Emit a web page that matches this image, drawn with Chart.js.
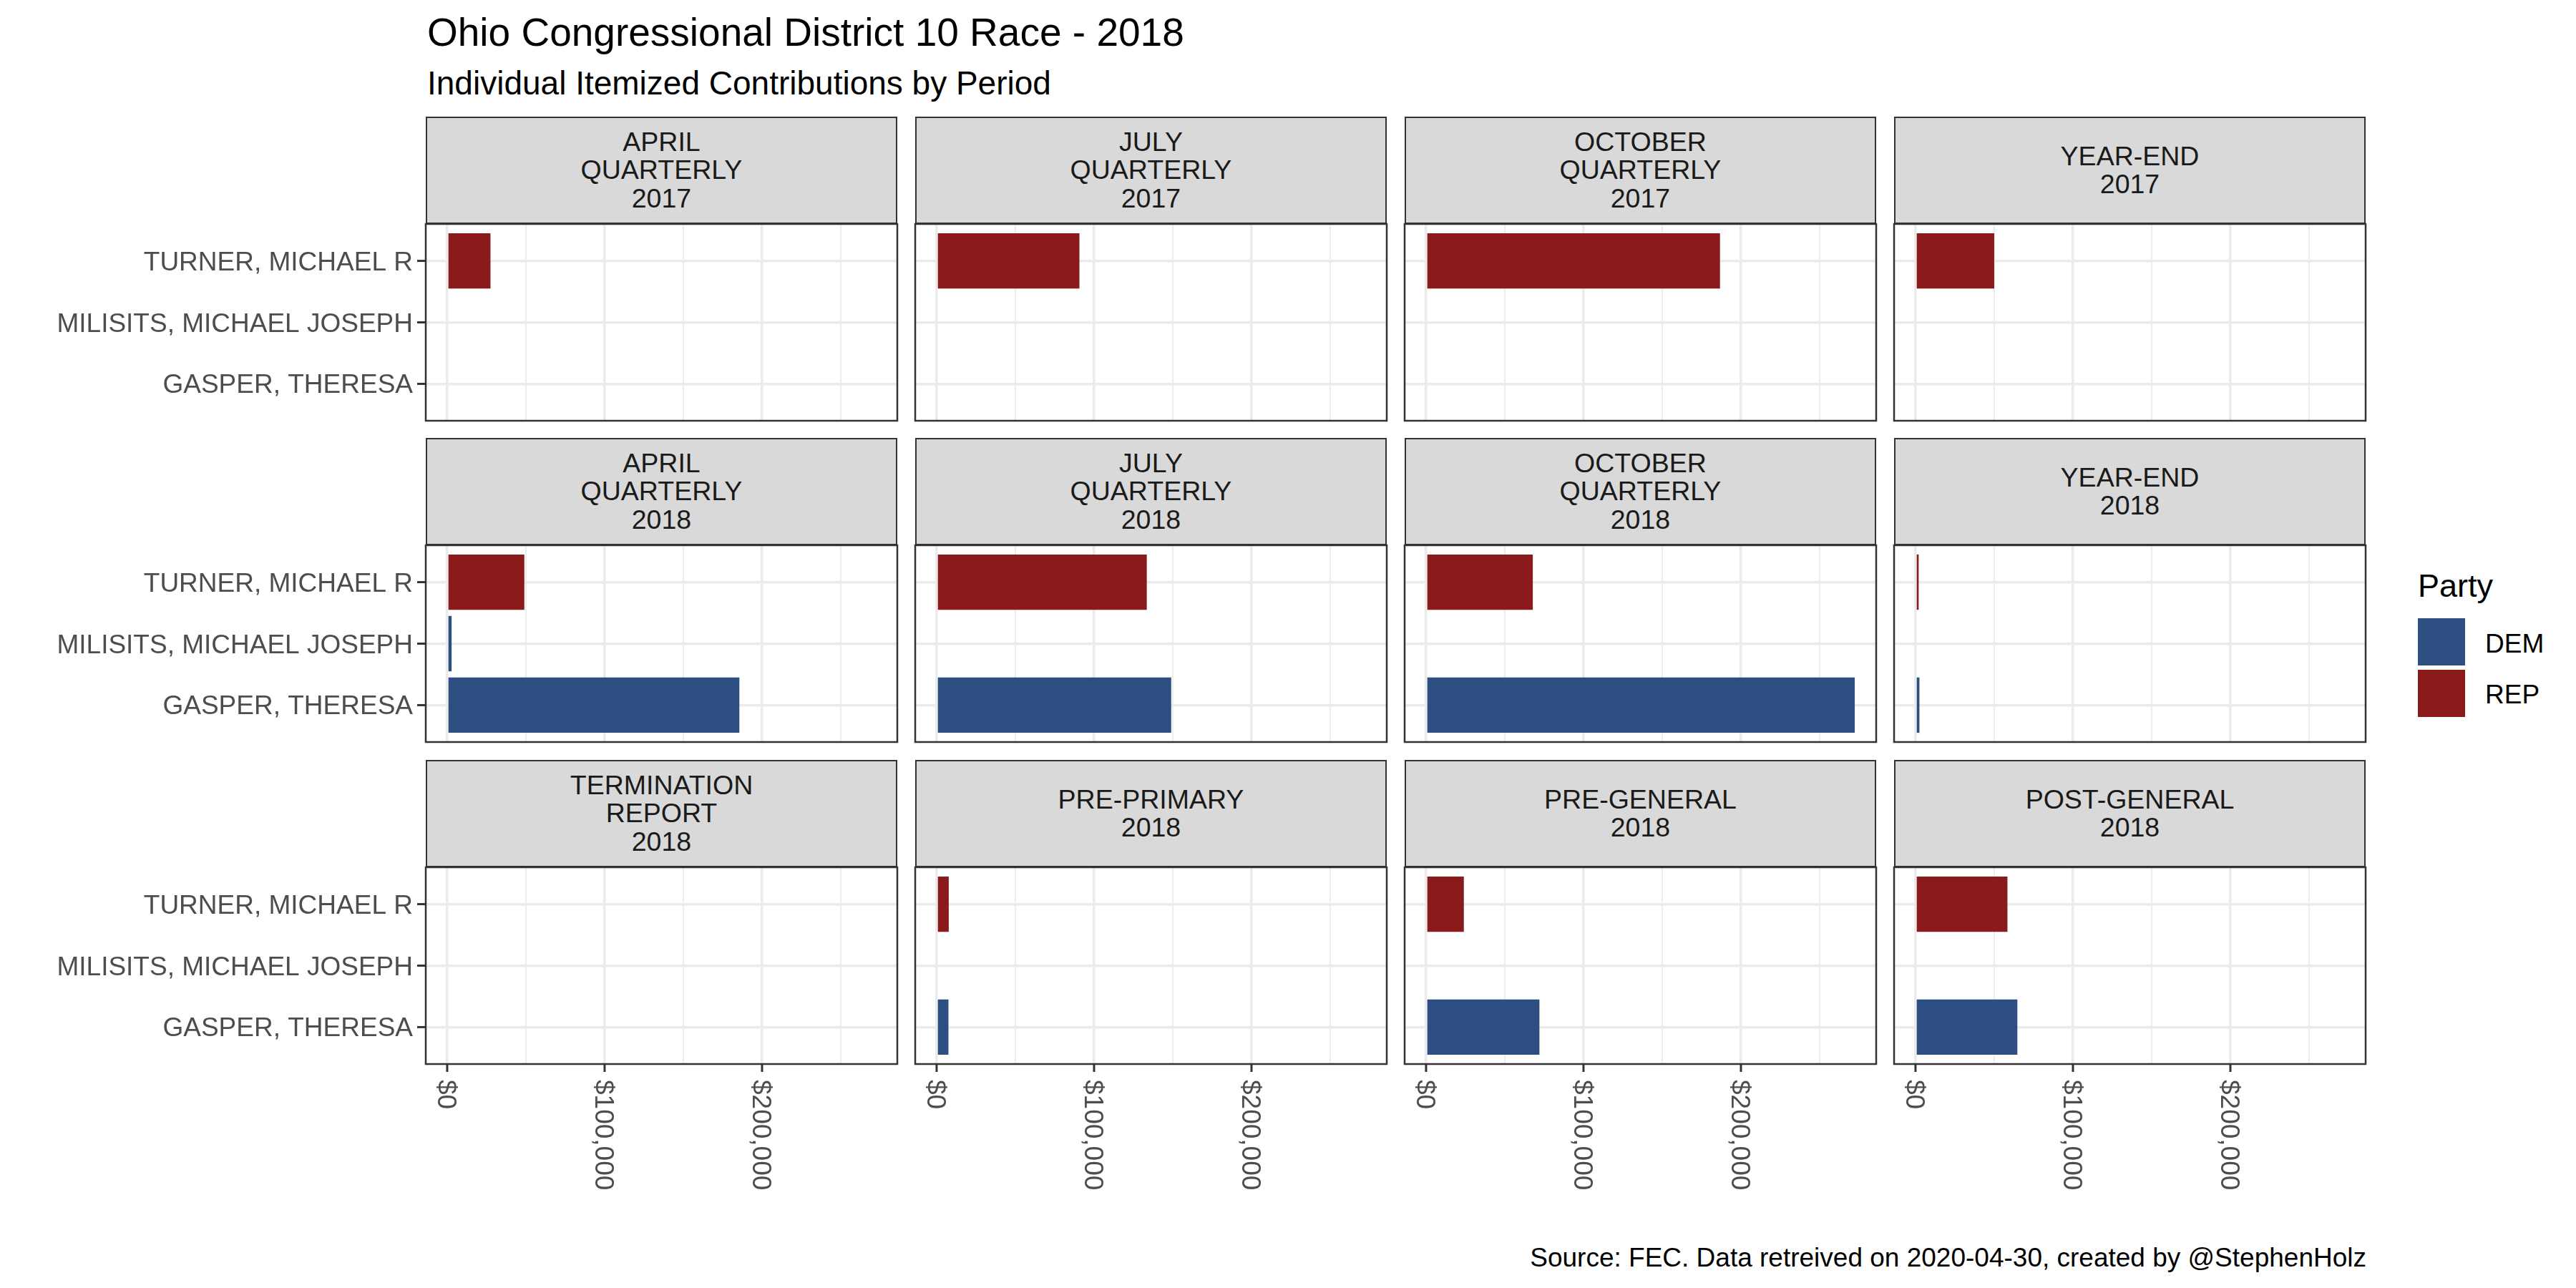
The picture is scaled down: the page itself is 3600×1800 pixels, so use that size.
<!DOCTYPE html>
<html>
<head>
<meta charset="utf-8">
<script src="https://cdn.jsdelivr.net/npm/chart.js@4.4.1/dist/chart.umd.min.js"></script>
<style>
  body { margin: 0; background: #fff; }
  #page { position: relative; width: 3600px; height: 1800px; font-family: "Liberation Sans", Arial, sans-serif; overflow: hidden; }
  .txt { position: absolute; white-space: nowrap; line-height: 1; }
  .strip { position: absolute; box-sizing: border-box; width: 659px; height: 150px; background: #D9D9D9; border: 2.5px solid #333333;
           display: flex; align-items: center; justify-content: center; text-align: center; color: #1A1A1A; font-size: 37.5px; line-height: 39.5px; }
  canvas { position: absolute; }
  .swatch { position: absolute; width: 66px; height: 66px; }
</style>
</head>
<body>
<div id="page">
  <div class="txt" style="left:597px; top:18px; font-size:55px; color:#000;">Ohio Congressional District 10 Race - 2018</div>
  <div class="txt" style="left:597px; top:93px; font-size:46px; color:#000;">Individual Itemized Contributions by Period</div>
  <div class="txt" style="left:3379px; top:796px; font-size:45px; color:#000;">Party</div>
  <div class="swatch" style="left:3379px; top:864px; background:#2C4E80;"></div>
  <div class="swatch" style="left:3379px; top:936px; background:#8B1A1A;"></div>
  <div class="txt" style="left:3473px; top:881px; font-size:37px; color:#000;">DEM</div>
  <div class="txt" style="left:3473px; top:952px; font-size:37px; color:#000;">REP</div>
  <div class="txt" style="right:293px; top:1739px; font-size:37px; color:#000;">Source: FEC. Data retreived on 2020-04-30, created by @StephenHolz</div>
</div>

<script>
// Data
const candidates = ['GASPER, THERESA', 'MILISITS, MICHAEL JOSEPH', 'TURNER, MICHAEL R'];
const candidateParty = ['DEM', 'DEM', 'REP'];
const periods = [
    ['APRIL', 'QUARTERLY', '2017'], ['JULY', 'QUARTERLY', '2017'], ['OCTOBER', 'QUARTERLY', '2017'], ['YEAR-END', '2017'],
    ['APRIL', 'QUARTERLY', '2018'], ['JULY', 'QUARTERLY', '2018'], ['OCTOBER', 'QUARTERLY', '2018'], ['YEAR-END', '2018'],
    ['TERMINATION', 'REPORT', '2018'], ['PRE-PRIMARY', '2018'], ['PRE-GENERAL', '2018'], ['POST-GENERAL', '2018']
];
const gasperAmounts   = [null, null, null, null, 185600, 149000, 272300, 2500, null, 7500, 72000, 64700];
const milisitsAmounts = [null, null, null, null, 2800, null, null, null, null, null, null, null];
const turnerAmounts   = [27500, 90700, 186700, 50000, 49000, 133500, 67800, 2000, null, 7700, 24000, 58400];
const xTickValues = [0, 100000, 200000];
const xTickLabels = ['$0', '$100,000', '$200,000'];
const xMinorValues = [50000, 150000, 250000];
const partyColors = { DEM: '#2C4E80', REP: '#8B1A1A' };

const amounts = [gasperAmounts, milisitsAmounts, turnerAmounts];

// Layout
const colLeft = [595, 1279, 1963, 2647];
const rowTop = [163, 612, 1062];
const panelW = 659;
const stripH = 150;
const panelH = 275;
const page = document.getElementById('page');

// shared x range, ggplot-style 5% expansion
const allValues = amounts.flat().filter(v => v !== null);
const dataMax = Math.max(...allValues);
const xMin = -0.05 * dataMax;
const xMax = dataMax * 1.05;

// Panel border, ticks and axis labels
const panelFrame = {
    id: 'panelFrame',
    afterDraw(chart, args, opts) {
        const ctx = chart.ctx;
        const area = chart.chartArea;
        ctx.save();
        ctx.strokeStyle = '#333333';
        ctx.lineWidth = 2.5;
        ctx.strokeRect(area.left, area.top, area.right - area.left, area.bottom - area.top);

        ctx.font = '37px "Liberation Sans", Arial, sans-serif';
        ctx.fillStyle = '#4D4D4D';
        ctx.lineWidth = 3;

        if (opts.showY) {
            const yScale = chart.scales.y;
            candidates.forEach((name, j) => {
                const py = yScale.getPixelForValue(j);
                ctx.beginPath();
                ctx.moveTo(area.left - 12, py);
                ctx.lineTo(area.left, py);
                ctx.stroke();
                ctx.textAlign = 'right';
                ctx.textBaseline = 'alphabetic';
                ctx.fillText(name, area.left - 18, py + 13);
            });
        }
        if (opts.showX) {
            const xScale = chart.scales.x;
            xTickValues.forEach((v, k) => {
                const px = xScale.getPixelForValue(v);
                ctx.beginPath();
                ctx.moveTo(px, area.bottom);
                ctx.lineTo(px, area.bottom + 11);
                ctx.stroke();
                ctx.save();
                ctx.translate(px, area.bottom + 22);
                ctx.rotate(Math.PI / 2);
                ctx.textAlign = 'left';
                ctx.textBaseline = 'alphabetic';
                ctx.fillText(xTickLabels[k], 0, 13);
                ctx.restore();
            });
        }
        ctx.restore();
    }
};

function makePanel(i) {
    const row = Math.floor(i / 4);
    const col = i % 4;

    // strip
    const strip = document.createElement('div');
    strip.className = 'strip';
    strip.style.left = colLeft[col] + 'px';
    strip.style.top = rowTop[row] + 'px';
    strip.innerHTML = periods[i].join('<br>');
    page.appendChild(strip);

    // canvas around the panel
    const padL = col === 0 ? 595 : 6;
    const padT = 6;
    const padR = 6;
    const padB = row === 2 ? 330 : 6;
    const canvas = document.createElement('canvas');
    canvas.width = panelW + padL + padR;
    canvas.height = panelH + padT + padB;
    canvas.style.width = canvas.width + 'px';
    canvas.style.height = canvas.height + 'px';
    canvas.style.left = (colLeft[col] - padL) + 'px';
    canvas.style.top = (rowTop[row] + stripH - padT) + 'px';
    page.appendChild(canvas);

    new Chart(canvas.getContext('2d'), {
        type: 'bar',
        data: {
            datasets: [{
                data: candidates.map((c, j) => ({ x: amounts[j][i], y: j })),
                backgroundColor: candidateParty.map(p => partyColors[p]),
                borderWidth: 0,
                barPercentage: 0.9,
                categoryPercentage: 1
            }]
        },
        options: {
            indexAxis: 'y',
            responsive: false,
            animation: false,
            layout: { padding: { left: padL, top: padT, right: padR, bottom: padB } },
            plugins: {
                legend: { display: false },
                tooltip: { enabled: false },
                panelFrame: { showY: col === 0, showX: row === 2 }
            },
            scales: {
                x: {
                    type: 'linear',
                    min: xMin,
                    max: xMax,
                    offset: false,
                    afterBuildTicks: s => {
                        s.ticks = xTickValues.concat(xMinorValues).map(v => ({ value: v }));
                    },
                    afterFit: s => { s.height = 0; },
                    ticks: { display: false },
                    border: { display: false },
                    grid: {
                        offset: false,
                        drawTicks: false,
                        color: '#EBEBEB',
                        lineWidth: c => (c.tick && xTickValues.includes(c.tick.value)) ? 3.5 : 1.8
                    }
                },
                y: {
                    type: 'linear',
                    min: -0.6,
                    max: 2.6,
                    offset: false,
                    afterBuildTicks: s => {
                        s.ticks = candidates.map((c, j) => ({ value: j }));
                    },
                    afterFit: s => { s.width = 0; },
                    ticks: { display: false },
                    border: { display: false },
                    grid: { offset: false, drawTicks: false, color: '#EBEBEB', lineWidth: 3.5 }
                }
            }
        },
        plugins: [panelFrame]
    });
}

periods.forEach((p, i) => makePanel(i));
</script>
</body>
</html>
